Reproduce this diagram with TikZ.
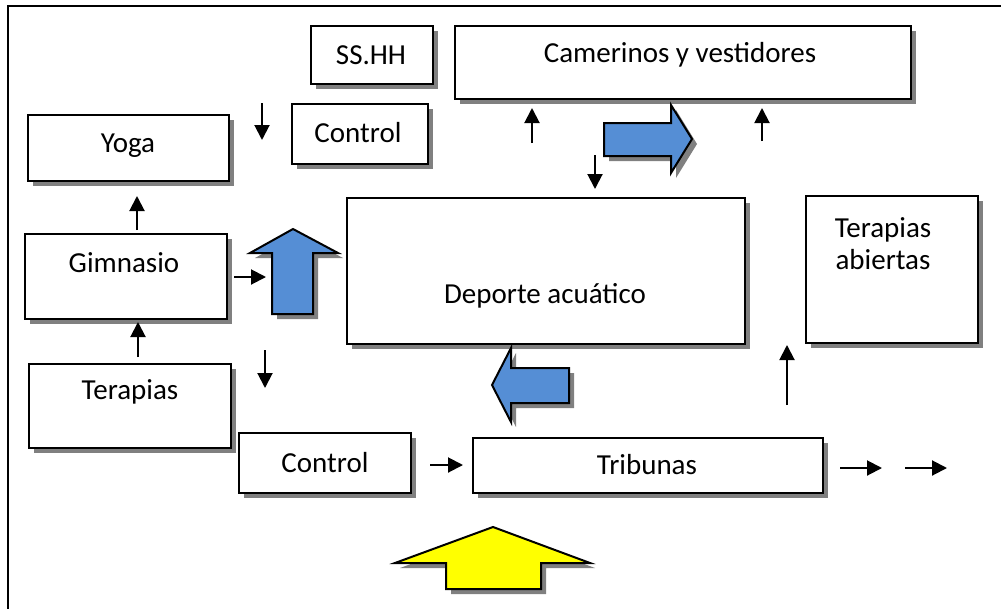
\documentclass[tikz,border=0pt]{standalone}
\usepackage{fontspec}
\setmainfont{Carlito}
\usetikzlibrary{arrows.meta,shadows}
\definecolor{blk}{RGB}{85,142,213}
\definecolor{yel}{RGB}{255,255,0}
\definecolor{shd}{RGB}{128,128,128}
\tikzset{
  shadowed/.style={drop shadow={shadow xshift=5pt,shadow yshift=-5pt,opacity=1,fill=shd}},
  box/.style={draw=black,line width=2pt,fill=white,rectangle,anchor=north west,inner sep=0pt,shadowed},
  lbl/.style={font=\fontsize{29}{34}\selectfont,inner sep=0pt,align=center},
  arr/.style={line width=2pt,-{Triangle[length=15pt,width=15pt]}},
  blockarrow/.style={draw=black,line width=2pt,line join=miter,shadowed},
}
\begin{document}
\begin{tikzpicture}[x=1pt,y=-1pt]
\useasboundingbox (0,0) rectangle (1001,608);
\clip (0,0) rectangle (1001,608);
\fill[white] (0,0) rectangle (1001,608);
% outer frame (cut off at right and bottom)
\draw[line width=2.2pt] (8,630) -- (8,6) -- (1030,6);

% boxes
\node[box,minimum width=201pt,minimum height=66pt] (yoga) at (27,114) {};
\node[box,minimum width=122pt,minimum height=58pt] (sshh) at (310,25) {};
\node[box,minimum width=456pt,minimum height=73pt] (cam) at (454,25) {};
\node[box,minimum width=136pt,minimum height=60pt] (ctrlA) at (291,103) {};
\node[box,minimum width=202pt,minimum height=85pt] (gim) at (24,233) {};
\node[box,minimum width=202pt,minimum height=84pt] (ter) at (28,363) {};
\node[box,minimum width=398pt,minimum height=146pt] (dep) at (346,197) {};
\node[box,minimum width=172pt,minimum height=147pt] (tab) at (805,195) {};
\node[box,minimum width=172pt,minimum height=60pt] (ctrlB) at (238,432) {};
\node[box,minimum width=350pt,minimum height=55pt] (trib) at (472,437) {};

% texts
\node[lbl] (t-yoga) at (128,146) {Yoga};
\node[lbl] (t-sshh) at (371,55) {SS.HH};
\node[lbl] (t-cam) at (680,55) {Camerinos y vestidores};
\node[lbl] (t-ctrlA) at (358,133) {Control};
\node[lbl] (t-gim) at (124,263) {Gimnasio};
\node[lbl] (t-ter) at (130,392) {Terapias};
\node[lbl] (t-dep) at (545,296) {Deporte acuático};
\node[lbl,font=\fontsize{29}{32}\selectfont] (t-tab) at (883,244) {Terapias\\abiertas};
\node[lbl] (t-ctrlB) at (325,463) {Control};
\node[lbl] (t-trib) at (647,465) {Tribunas};

% small arrows
\coordinate (a1s) at (262,103); \coordinate (a1e) at (262,140);
\coordinate (a2s) at (532,143); \coordinate (a2e) at (532,108);
\coordinate (a3s) at (762,141); \coordinate (a3e) at (762,108);
\coordinate (a4s) at (595,155); \coordinate (a4e) at (595,189);
\coordinate (a5s) at (137,230); \coordinate (a5e) at (137,196);
\coordinate (a6s) at (234,277); \coordinate (a6e) at (266,277);
\coordinate (a7s) at (138,357); \coordinate (a7e) at (138,322);
\coordinate (a8s) at (265,350); \coordinate (a8e) at (265,388);
\coordinate (a9s) at (430,465); \coordinate (a9e) at (463,465);
\coordinate (a10s) at (787,405); \coordinate (a10e) at (787,345);
\coordinate (a11s) at (840,468); \coordinate (a11e) at (882,468);
\coordinate (a12s) at (905,468); \coordinate (a12e) at (947,468);
\foreach \i in {1,...,12} {\draw[arr] (a\i s) -- (a\i e);}

% block arrows
\draw[blockarrow,fill=blk] (272,314) -- (272,253) -- (250,253) -- (293,229) -- (338,253) -- (313,253) -- (313,314) -- cycle;
\draw[blockarrow,fill=blk] (604,123) -- (671,123) -- (671,105) -- (692,139) -- (671,173) -- (671,156) -- (604,156) -- cycle;
\draw[blockarrow,fill=blk] (569,368) -- (511,368) -- (511,348) -- (492,385) -- (511,422) -- (511,403) -- (569,403) -- cycle;
\draw[blockarrow,fill=yel] (446,589) -- (446,563) -- (395,563) -- (493,527) -- (590,563) -- (541,563) -- (541,589) -- cycle;
\end{tikzpicture}
\end{document}
